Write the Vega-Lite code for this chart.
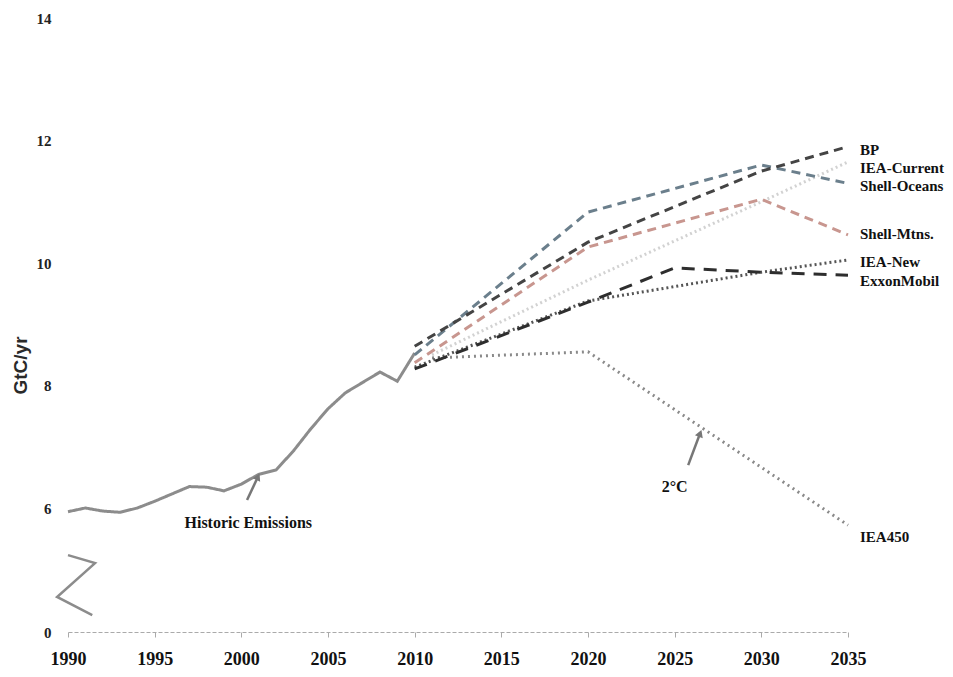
{
  "$schema": "https://vega.github.io/schema/vega-lite/v6.json",
  "width": 780,
  "height": 614,
  "autosize": "none",
  "padding": {"left": 68, "top": 18, "right": 105, "bottom": 45},
  "background": "white",
  "config": {"view": {"stroke": null}},
  "datasets": {
    "lines": [
      {"series": "IEA-Current", "year": 2011, "value": 8.5},
      {"series": "IEA-Current", "year": 2020, "value": 9.72},
      {"series": "IEA-Current", "year": 2030, "value": 11.0},
      {"series": "IEA-Current", "year": 2035, "value": 11.65},
      {"series": "Historic", "year": 1990, "value": 5.94},
      {"series": "Historic", "year": 1991, "value": 6.0},
      {"series": "Historic", "year": 1992, "value": 5.95},
      {"series": "Historic", "year": 1993, "value": 5.93},
      {"series": "Historic", "year": 1994, "value": 6.0},
      {"series": "Historic", "year": 1995, "value": 6.11},
      {"series": "Historic", "year": 1996, "value": 6.23},
      {"series": "Historic", "year": 1997, "value": 6.35},
      {"series": "Historic", "year": 1998, "value": 6.34},
      {"series": "Historic", "year": 1999, "value": 6.28},
      {"series": "Historic", "year": 2000, "value": 6.39},
      {"series": "Historic", "year": 2001, "value": 6.55},
      {"series": "Historic", "year": 2002, "value": 6.62},
      {"series": "Historic", "year": 2003, "value": 6.93},
      {"series": "Historic", "year": 2004, "value": 7.29},
      {"series": "Historic", "year": 2005, "value": 7.62},
      {"series": "Historic", "year": 2006, "value": 7.88},
      {"series": "Historic", "year": 2007, "value": 8.05},
      {"series": "Historic", "year": 2008, "value": 8.22},
      {"series": "Historic", "year": 2009, "value": 8.07},
      {"series": "Historic", "year": 2010, "value": 8.53},
      {"series": "IEA450", "year": 2011, "value": 8.45},
      {"series": "IEA450", "year": 2020, "value": 8.55},
      {"series": "IEA450", "year": 2035, "value": 5.72},
      {"series": "Shell-Mtns.", "year": 2010, "value": 8.37},
      {"series": "Shell-Mtns.", "year": 2020, "value": 10.26},
      {"series": "Shell-Mtns.", "year": 2030, "value": 11.04},
      {"series": "Shell-Mtns.", "year": 2035, "value": 10.46},
      {"series": "Shell-Oceans", "year": 2010, "value": 8.5},
      {"series": "Shell-Oceans", "year": 2020, "value": 10.83},
      {"series": "Shell-Oceans", "year": 2030, "value": 11.6},
      {"series": "Shell-Oceans", "year": 2035, "value": 11.3},
      {"series": "IEA-New", "year": 2010, "value": 8.3},
      {"series": "IEA-New", "year": 2020, "value": 9.38},
      {"series": "IEA-New", "year": 2030, "value": 9.85},
      {"series": "IEA-New", "year": 2035, "value": 10.05},
      {"series": "ExxonMobil", "year": 2010, "value": 8.27},
      {"series": "ExxonMobil", "year": 2020, "value": 9.36},
      {"series": "ExxonMobil", "year": 2025, "value": 9.92},
      {"series": "ExxonMobil", "year": 2030, "value": 9.85},
      {"series": "ExxonMobil", "year": 2035, "value": 9.8},
      {"series": "BP", "year": 2010, "value": 8.64},
      {"series": "BP", "year": 2020, "value": 10.34},
      {"series": "BP", "year": 2030, "value": 11.5},
      {"series": "BP", "year": 2035, "value": 11.9}
    ],
    "brk": [
      {"i": 1, "year": 1990.0, "value": 5.23},
      {"i": 2, "year": 1991.56, "value": 5.1},
      {"i": 3, "year": 1989.37, "value": 2.79},
      {"i": 4, "year": 1991.4, "value": 1.35}
    ],
    "labels": [
      {"label": "BP", "year": 2035, "value": 11.84},
      {"label": "IEA-Current", "year": 2035, "value": 11.55},
      {"label": "Shell-Oceans", "year": 2035, "value": 11.26},
      {"label": "Shell-Mtns.", "year": 2035, "value": 10.47},
      {"label": "IEA-New", "year": 2035, "value": 10.02},
      {"label": "ExxonMobil", "year": 2035, "value": 9.71},
      {"label": "IEA450", "year": 2035, "value": 5.53}
    ],
    "notes": [
      {"label": "Historic Emissions", "year": 2000.4, "value": 5.76},
      {"label": "2°C", "year": 2025.0, "value": 6.34}
    ],
    "arrows": [
      {"year": 2000.33, "value": 6.13, "year2": 2000.96, "value2": 6.51, "angle": 26},
      {"year": 2025.78, "value": 6.7, "year2": 2026.47, "value2": 7.22, "angle": 21}
    ]
  },
  "encoding": {
    "x": {
      "field": "year",
      "type": "quantitative",
      "scale": {"domain": [1990, 2035], "nice": false, "zero": false},
      "axis": {
        "title": null,
        "values": [1990, 1995, 2000, 2005, 2010, 2015, 2020, 2025, 2030, 2035],
        "format": "d",
        "grid": false,
        "labelFlush": false,
        "labelOverlap": false,
        "domainColor": "#aaaaaa",
        "domainDash": [4, 2],
        "domainWidth": 1.2,
        "tickColor": "#aaaaaa",
        "tickSize": 5,
        "labelPadding": 13,
        "labelFont": "Liberation Serif",
        "labelFontWeight": "bold",
        "labelFontSize": 18,
        "labelColor": "#111111"
      }
    },
    "y": {
      "field": "value",
      "type": "quantitative",
      "scale": {"domain": [0, 5, 14], "range": [614, 551.25, 0], "nice": false, "zero": false},
      "axis": {
        "title": "GtC/yr",
        "values": [0, 6, 8, 10, 12, 14],
        "grid": false,
        "domain": false,
        "ticks": false,
        "labelPadding": 17,
        "labelFont": "Liberation Serif",
        "labelFontWeight": "bold",
        "labelFontSize": 15,
        "labelColor": "#222222",
        "titleFont": "Liberation Sans",
        "titleFontWeight": "bold",
        "titleFontSize": 19,
        "titleColor": "#2a2a2a",
        "titleAngle": -90,
        "titleAlign": "center",
        "titleBaseline": "middle",
        "titleX": -48,
        "titleY": 347
      }
    }
  },
  "layer": [
    {
      "data": {"name": "lines"},
      "mark": {"type": "line", "strokeWidth": 3, "clip": false},
      "encoding": {
        "color": {
          "field": "series",
          "type": "nominal",
          "legend": null,
          "scale": {
            "domain": ["IEA-Current", "Historic", "IEA450", "Shell-Mtns.", "Shell-Oceans", "IEA-New", "ExxonMobil", "BP"],
            "range": ["#d2d2d2", "#8c8c8c", "#8a8a8a", "#c8968f", "#6b7f8c", "#555555", "#2e2e2e", "#444444"]
          }
        },
        "strokeDash": {
          "field": "series",
          "type": "nominal",
          "legend": null,
          "scale": {
            "domain": ["IEA-Current", "Historic", "IEA450", "Shell-Mtns.", "Shell-Oceans", "IEA-New", "ExxonMobil", "BP"],
            "range": [[2, 3], [1, 0], [2, 4], [9, 6], [9, 6], [2, 3], [13, 9], [9, 6]]
          }
        }
      }
    },
    {
      "data": {"name": "brk"},
      "mark": {"type": "line", "color": "#8c8c8c", "strokeWidth": 2.5, "clip": false},
      "encoding": {"order": {"field": "i", "type": "quantitative"}}
    },
    {
      "data": {"name": "arrows"},
      "mark": {"type": "rule", "color": "#777777", "strokeWidth": 2.5},
      "encoding": {
        "x2": {"field": "year2"},
        "y2": {"field": "value2"}
      }
    },
    {
      "data": {"name": "arrows"},
      "mark": {"type": "point", "shape": "triangle-up", "filled": true, "color": "#777777", "size": 70, "opacity": 1},
      "encoding": {
        "x": {"field": "year2", "type": "quantitative"},
        "y": {"field": "value2", "type": "quantitative"},
        "angle": {"field": "angle", "type": "quantitative", "scale": null}
      }
    },
    {
      "data": {"name": "labels"},
      "mark": {"type": "text", "align": "left", "baseline": "middle", "dx": 12, "font": "Liberation Serif", "fontWeight": "bold", "fontSize": 15, "color": "#111111"},
      "encoding": {"text": {"field": "label"}}
    },
    {
      "data": {"name": "notes"},
      "mark": {"type": "text", "align": "center", "baseline": "middle", "font": "Liberation Serif", "fontWeight": "bold", "fontSize": 16, "color": "#111111"},
      "encoding": {"text": {"field": "label"}}
    }
  ]
}
